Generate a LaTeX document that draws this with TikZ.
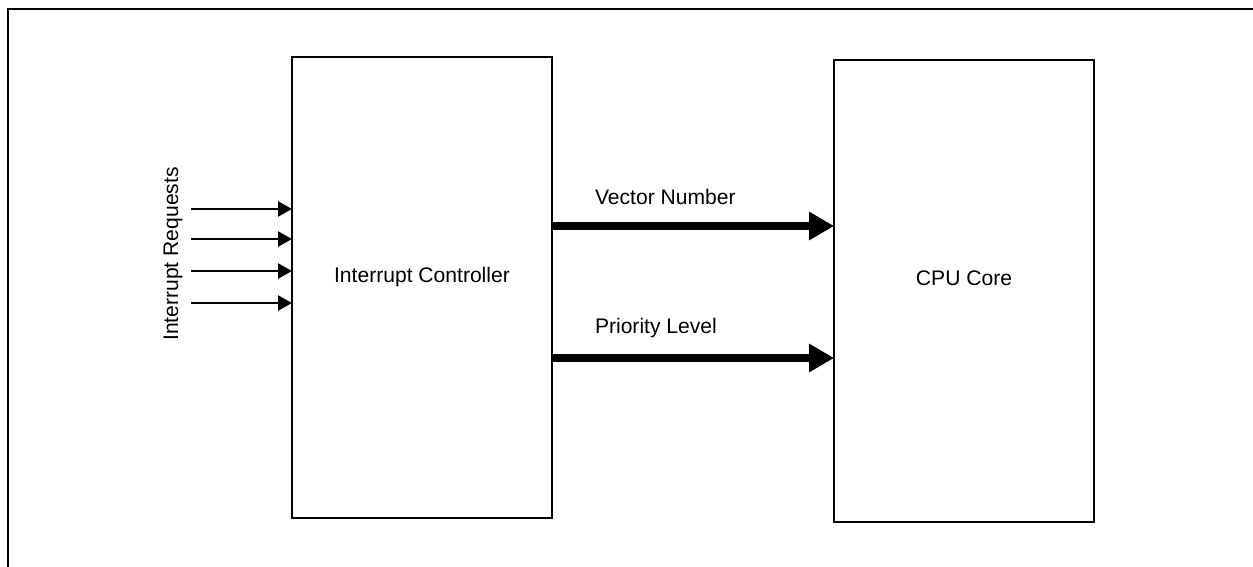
\documentclass[tikz,border=0pt]{standalone}
\usepackage{fontspec}
\setmainfont{Liberation Sans}
\usepackage{tikz}
\usetikzlibrary{calc,arrows.meta,positioning}
\tikzset{
	block/.style={rectangle,draw,line width=1.2pt,minimum width=5.2cm,inner sep=0pt},
	every node/.style={font=\fontsize{12}{14}\selectfont,outer sep=0pt,inner sep=0pt},
	reqarrow/.style={line width=1.2pt,arrows={-Triangle[length=0.28cm,width=0.3cm]}},
	busarrow/.style={line width=4.5pt,arrows={-Triangle[length=0.5cm,width=0.54cm]}},
	buslabel/.style={anchor=west}
	}

\begin{document}
\begin{tikzpicture}[x=0.02cm,y=-0.02cm]
      \useasboundingbox (0,0) rectangle (1253,567);
      % frame
      \draw[line width=1.6pt] (8,567) -- (8,9) -- (1253,9);
      % blocks
      \node[block,minimum height=9.22cm,label={[yshift=0.21cm]center:Interrupt Controller}] (ctrl) at (422,287.5) {};
      \node[block,minimum height=9.24cm,label={[yshift=0.26cm]center:CPU Core}] (cpu) at (964,291) {};
      % requests
      \node[rotate=90] (reqlabel) at (173,254) {Interrupt Requests};
      \foreach \y [count=\i] in {209,239,271,303} {
        \coordinate (in\i) at (191,\y);
        \draw[reqarrow] (in\i) -- (in\i -| ctrl.west);
      }
      % buses
      \coordinate (vec) at (0,226);
      \coordinate (prio) at (0,358);
      \draw[busarrow] (vec -| ctrl.east) -- (vec -| cpu.west);
      \draw[busarrow] (prio -| ctrl.east) -- (prio -| cpu.west);
      \node[buslabel] (veclabel) at (595,197) {Vector Number};
      \node[buslabel] (priolabel) at (595,328) {Priority Level};
    \end{tikzpicture}
\end{document}
